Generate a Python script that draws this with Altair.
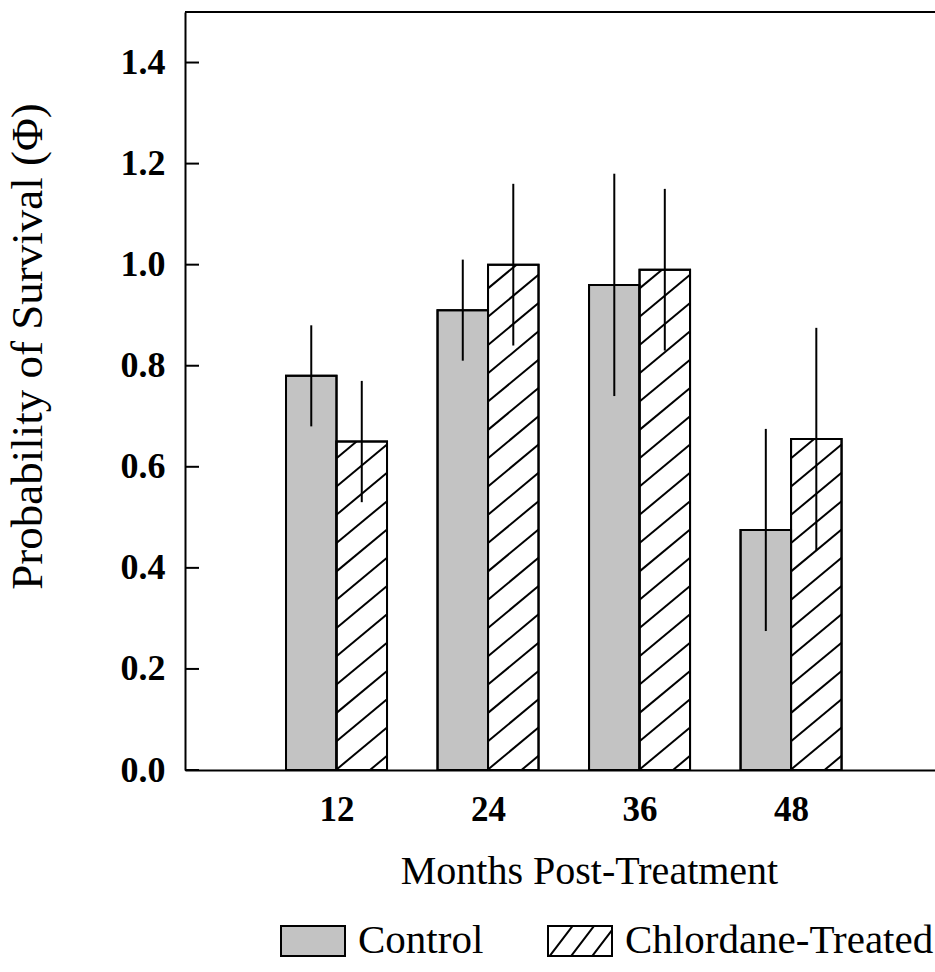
import altair as alt
import pandas as pd

# ---- data ----
months = [12, 24, 36, 48]
groups = ["Control", "Chlordane-Treated"]
control_phi = [0.78, 0.91, 0.96, 0.475]
control_err = [0.10, 0.10, 0.22, 0.20]
treated_phi = [0.65, 1.00, 0.99, 0.655]
treated_err = [0.12, 0.16, 0.16, 0.22]
y_ticks = [0.0, 0.2, 0.4, 0.6, 0.8, 1.0, 1.2, 1.4]

# ---- layout ----
W, H = 750, 758
X_MAX = 59.4
Y_MAX = 1.5
BAR_W = 4.0          # bar width in months
SERIF = "Liberation Serif"

rows = []
for i, m in enumerate(months):
    for g, phi, err, x0 in (
        (groups[0], control_phi[i], control_err[i], m - BAR_W),
        (groups[1], treated_phi[i], treated_err[i], m),
    ):
        rows.append(dict(month=m, group=g, phi=phi, lo=phi - err, hi=phi + err,
                         x0=x0, x1=x0 + BAR_W, xc=x0 + BAR_W / 2))
df = pd.DataFrame(rows)

# hatch lines for treated bars (derived from the bars through pixel scale factors)
sx = W / X_MAX
sy = H / Y_MAX
slope = 0.83
spacing = 28.3
hatch = []
for r in df[df.group == groups[1]].itertuples():
    bw = (r.x1 - r.x0) * sx
    bh = r.phi * sy
    c = -slope * bw + spacing * 0.5
    while c < bh:
        a0 = max(0.0, -c / slope)
        a1 = min(bw, (bh - c) / slope)
        if a1 - a0 > 0.5:
            hatch.append(dict(hx0=r.x0 + a0 / sx, hx1=r.x0 + a1 / sx,
                              hy0=(c + slope * a0) / sy, hy1=(c + slope * a1) / sy))
        c += spacing
hdf = pd.DataFrame(hatch)
tdf = pd.DataFrame({"tick": y_ticks})

xscale = alt.Scale(domain=[0, X_MAX], nice=False, zero=False)
yscale = alt.Scale(domain=[0, Y_MAX], nice=False)
fill_scale = alt.Scale(domain=groups, range=["#c3c3c3", "white"])
stroke_scale = alt.Scale(domain=groups, range=["black", "black"])
shape_scale = alt.Scale(
    domain=groups,
    range=["M-1,-0.47H1V0.47H-1Z",
           "M-1,-0.47H1V0.47H-1Z M-0.95,0.47L-0.23,-0.47 M-0.28,0.47L0.44,-0.47 M0.38,0.47L1,-0.34"],
)

x_axis = alt.Axis(values=months, ticks=False, tickSize=0, grid=False,
                  labelFont=SERIF, labelFontWeight="bold", labelFontSize=35,
                  labelColor="black", labelPadding=22,
                  domainColor="black", domainWidth=2,
                  title="Months Post-Treatment", titleFont=SERIF, titleFontSize=40,
                  titleFontWeight="normal", titleColor="black", titlePadding=24,
                  titleX=404, titleAlign="center")
y_axis = alt.Axis(values=y_ticks, format=".1f", ticks=False, tickSize=0, grid=False,
                  labelFont=SERIF, labelFontWeight="bold", labelFontSize=36,
                  labelColor="black", labelPadding=20,
                  domainColor="black", domainWidth=2,
                  title="Probability of Survival (Φ)", titleFont=SERIF, titleFontSize=45,
                  titleFontWeight="normal", titleColor="black",
                  titleX=-158, titleY=334, titleAlign="center", titleBaseline="middle")

legend = alt.Legend(orient="none", legendX=95, legendY=896, direction="horizontal",
                    title=None, symbolSize=4096, symbolStrokeWidth=2, symbolOpacity=1,
                    labelFont=SERIF, labelFontSize=41,
                    labelColor="black", labelOffset=12, labelLimit=600,
                    columnPadding=60, padding=0)

base = alt.Chart(df)

# tiny points hidden underneath the bars; they only carry the legend's swatches
legend_pts = base.transform_calculate(mid="datum.phi / 2").mark_point(
    filled=True, strokeWidth=0.5, size=4).encode(
    x=alt.X("xc:Q", scale=xscale, axis=x_axis),
    y=alt.Y("mid:Q", scale=yscale, axis=y_axis),
    fill=alt.Fill("group:N", scale=fill_scale, legend=legend),
    stroke=alt.Stroke("group:N", scale=stroke_scale, legend=legend),
    shape=alt.Shape("group:N", scale=shape_scale, legend=legend),
)

bars = base.mark_rect(stroke="black", strokeWidth=2).encode(
    x="x0:Q",
    x2="x1:Q",
    y="phi:Q",
    y2=alt.datum(0),
    fill=alt.Fill("group:N", scale=fill_scale, legend=legend),
)

hatch_lines = alt.Chart(hdf).mark_rule(color="black", strokeWidth=2).encode(
    x="hx0:Q", x2="hx1:Q", y="hy0:Q", y2="hy1:Q",
)

outlines = base.mark_rect(fillOpacity=0, stroke="black", strokeWidth=2).encode(
    x="x0:Q", x2="x1:Q", y="phi:Q", y2=alt.datum(0),
)

errs = base.mark_rule(color="black", strokeWidth=2).encode(
    x="xc:Q", y="lo:Q", y2="hi:Q",
)

ticks = alt.Chart(tdf).mark_rule(color="black", strokeWidth=2).encode(
    y="tick:Q", x=alt.value(0), x2=alt.value(14),
)

top_border = alt.Chart(tdf).mark_rule(color="black", strokeWidth=2).encode(
    y=alt.datum(Y_MAX),
)

chart = alt.layer(legend_pts, bars, hatch_lines, outlines, errs, ticks, top_border).properties(
    width=W, height=H,
    padding={"left": 185, "top": 12, "right": 0, "bottom": 202},
    autosize=alt.AutoSizeParams(type="none"),
    background="white",
).configure_view(stroke=None)

chart.save("out.html", embed_options={"renderer": "svg", "actions": False})
